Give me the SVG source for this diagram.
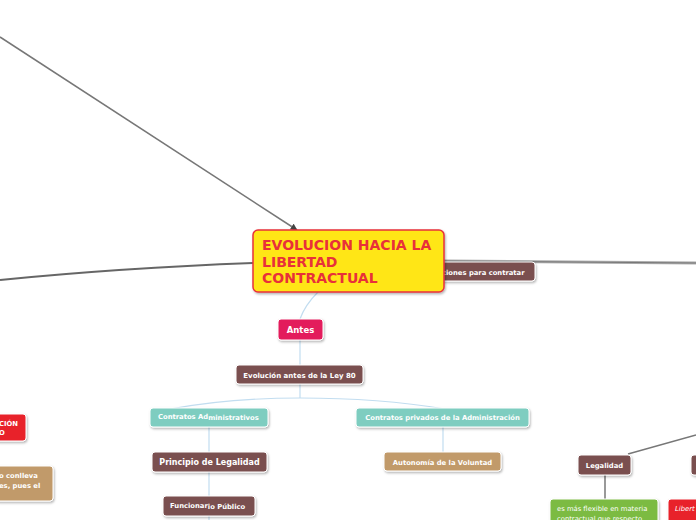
<svg xmlns="http://www.w3.org/2000/svg" width="696" height="520" viewBox="0 0 696 520">
<defs>
<filter id="sh" x="-10%" y="-20%" width="130%" height="160%">
<feDropShadow dx="1" dy="1.5" stdDeviation="0.8" flood-color="#000" flood-opacity="0.3"/>
</filter>
<marker id="arr" viewBox="0 0 10 10" refX="9" refY="5" markerWidth="7" markerHeight="7" orient="auto" markerUnits="userSpaceOnUse">
<path d="M0,0 L10,5 L0,10 z" fill="#444"/>
</marker>
<style>
text{font-family:"DejaVu Sans","Verdana",sans-serif;fill:#fff;font-weight:bold}
.n{stroke:#fff;stroke-width:1;filter:url(#sh)}
.brown{fill:#7A4F4F}
.teal{fill:#7ECDC0}
.tan{fill:#C19A6A}
.red{fill:#E8202A}
.pink{fill:#E31B5B}
.green{fill:#7CBB42}
.s{font-size:6.8px}
.blue{fill:none;stroke:#C2DDF0;stroke-width:1.2}
.gray{fill:none;stroke:#777;stroke-width:1.5}
</style>
</defs>
<g id="connectors">
<path class="gray" d="M0,37 L297,230" marker-end="url(#arr)"/>
<path d="M0,280 Q120,268 253,263" fill="none" stroke="#666" stroke-width="2"/>
<path d="M444,261 L696,263" fill="none" stroke="#aaa" stroke-width="3"/>
<path d="M444,261 L696,263" fill="none" stroke="#777" stroke-width="1"/>
<path class="blue" d="M318,292 Q305,305 300,319"/>
<path class="blue" d="M300,340 V365"/>
<path class="blue" d="M300,384 V398"/>
<path class="blue" d="M300,398 Q230,398 170,409"/>
<path class="blue" d="M300,398 Q380,398 445,409"/>
<path class="blue" d="M209,427 V452"/>
<path class="blue" d="M209,472 V520"/>
<path class="blue" d="M443,427 V452"/>
<path class="gray" d="M628,454 L696,435"/>
<path class="gray" d="M605,475 V499"/>
</g>
<g id="n-ciones">
<rect class="n brown" x="400" y="262" width="135" height="19" rx="3"/>
<text class="s" x="442" y="274.5">ciones para contratar</text>
</g>
<g id="n-central">
<rect x="253" y="230" width="191" height="62" rx="5" fill="#FFE617" stroke="#E8303A" stroke-width="1.5" filter="url(#sh)"/>
<text x="262" y="250" font-size="14" style="fill:#E8303A">EVOLUCION HACIA LA</text>
<text x="262" y="266.5" font-size="14" style="fill:#E8303A">LIBERTAD</text>
<text x="262" y="283" font-size="14" style="fill:#E8303A">CONTRACTUAL</text>
</g>
<g id="n-antes">
<rect class="n pink" x="278" y="319" width="45" height="21" rx="3"/>
<text x="300.5" y="333" font-size="8.5" text-anchor="middle">Antes</text>
</g>
<g id="n-evolucion">
<rect class="n brown" x="236" y="365" width="127" height="19" rx="3"/>
<text x="299.5" y="377.5" font-size="7" text-anchor="middle">Evolución antes de la Ley 80</text>
</g>
<g id="n-admin">
<rect class="n teal" x="150" y="408" width="118" height="19" rx="3"/>
<text class="s" x="158" y="419">Contratos Ad<tspan dy="0.8">ministrativos</tspan></text>
</g>
<g id="n-privados">
<rect class="n teal" x="356" y="408" width="173" height="19" rx="3"/>
<text class="s" x="442.5" y="420" text-anchor="middle">Contratos privados de la Administración</text>
</g>
<g id="n-principio">
<rect class="n brown" x="152" y="452" width="115" height="20" rx="3"/>
<text x="209.5" y="465" font-size="8" text-anchor="middle">Principio de Legalidad</text>
</g>
<g id="n-autonomia">
<rect class="n tan" x="384" y="452" width="117" height="19" rx="3"/>
<text class="s" x="442.5" y="464.5" text-anchor="middle">Autonomía de la Voluntad</text>
</g>
<g id="n-funcionario">
<rect class="n brown" x="163" y="496" width="92" height="20" rx="3"/>
<text class="s" x="170" y="508">Funcionar<tspan dy="0.8">io Público</tspan></text>
</g>
<g id="n-left-red">
<rect class="n red" x="-5" y="414" width="31" height="27" rx="3"/>
<text class="s" x="-1" y="426">CIÓN</text>
<text class="s" x="-1" y="435">O</text>
</g>
<g id="n-left-tan">
<rect class="n tan" x="-5" y="466" width="58" height="35" rx="3"/>
<text class="s" x="-1" y="478">o conlleva</text>
<text class="s" x="-1" y="488">es, pues el</text>
</g>
<g id="n-legalidad">
<rect class="n brown" x="578" y="455" width="53" height="20" rx="3"/>
<text class="s" x="604.5" y="467.5" text-anchor="middle">Legalidad</text>
</g>
<g id="n-right-brown">
<rect class="n brown" x="691" y="455" width="20" height="20" rx="3"/>
</g>
<g id="n-green">
<rect class="n green" x="550" y="499" width="108" height="30" rx="3"/>
<text class="s" x="557" y="511" style="font-weight:normal">es más flexible en materia</text>
<text class="s" x="557" y="520.5" style="font-weight:normal">contractual que respecto</text>
</g>
<g id="n-right-red">
<rect class="n red" x="668" y="499" width="40" height="30" rx="3"/>
<text class="s" x="675" y="511" style="font-weight:normal;font-style:italic">Libert</text>
</g>
</svg>
